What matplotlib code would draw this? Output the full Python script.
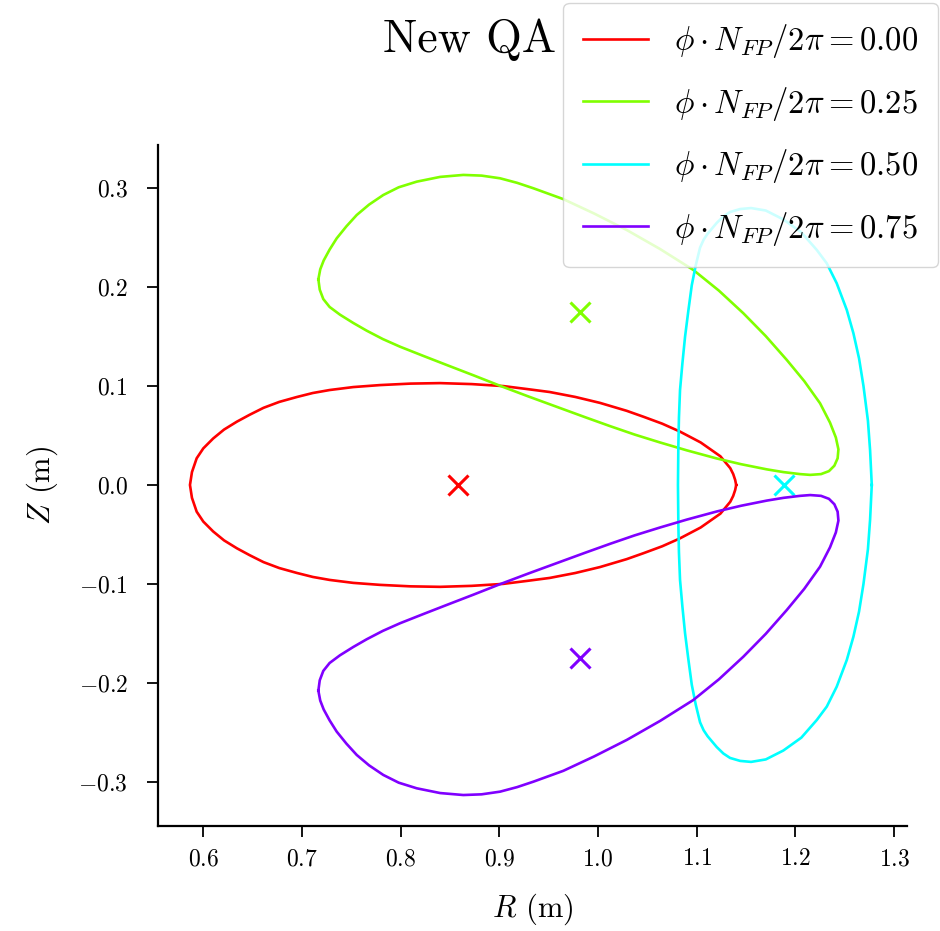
import numpy as np
import matplotlib
matplotlib.use("Agg")
import matplotlib.pyplot as plt

plt.rcParams["font.family"] = "serif"
plt.rcParams["font.serif"] = ["cmr10", "DejaVu Serif"]
plt.rcParams["mathtext.fontset"] = "cm"
plt.rcParams["axes.formatter.use_mathtext"] = True

# boundary cross sections, (R, Z) in metres
phi_labels = ["0.00", "0.25", "0.50", "0.75"]
colors = ["#ff0000", "#80ff00", "#00ffff", "#8000ff"]

pts_00 = [(1.140, 0.000), (1.139, 0.005), (1.137, 0.011), (1.134, 0.017), (1.124, 0.029),
          (1.104, 0.043), (1.083, 0.054), (1.065, 0.062), (1.046, 0.069), (1.029, 0.075),
          (1.002, 0.083), (0.977, 0.089), (0.951, 0.094), (0.928, 0.097), (0.904, 0.100),
          (0.872, 0.102), (0.840, 0.103), (0.810, 0.1025), (0.779, 0.101), (0.752, 0.099),
          (0.728, 0.096), (0.711, 0.093), (0.695, 0.089), (0.677, 0.084), (0.661, 0.078),
          (0.647, 0.071), (0.634, 0.064), (0.621, 0.056), (0.610, 0.047), (0.600, 0.037),
          (0.5933, 0.027), (0.5885, 0.013), (0.5865, 0.000),
          (0.5885, -0.013), (0.5933, -0.027), (0.600, -0.037), (0.610, -0.047), (0.621, -0.056),
          (0.634, -0.064), (0.647, -0.071), (0.661, -0.078), (0.677, -0.084), (0.695, -0.089),
          (0.711, -0.093), (0.728, -0.096), (0.752, -0.099), (0.779, -0.101), (0.810, -0.1025),
          (0.840, -0.103), (0.872, -0.102), (0.904, -0.100), (0.928, -0.097), (0.951, -0.094),
          (0.977, -0.089), (1.002, -0.083), (1.029, -0.075), (1.046, -0.069), (1.065, -0.062),
          (1.083, -0.054), (1.104, -0.043), (1.124, -0.029), (1.134, -0.017), (1.137, -0.011),
          (1.139, -0.005), (1.140, 0.000)]

pts_25 = [(0.7166, 0.2080), (0.7185, 0.2180), (0.7220, 0.2270), (0.7280, 0.2380), (0.7352, 0.2494),
          (0.7450, 0.2615), (0.7555, 0.2730), (0.7680, 0.2835), (0.7824, 0.2932), (0.7980, 0.3010),
          (0.8163, 0.3067), (0.8400, 0.3115), (0.8635, 0.3135), (0.8820, 0.3128), (0.9007, 0.3101),
          (0.9180, 0.3055), (0.9345, 0.3000), (0.9649, 0.2890), (0.9960, 0.2745), (1.0291, 0.2578),
          (1.0630, 0.2385), (1.0966, 0.2174), (1.1225, 0.1965), (1.1473, 0.1736), (1.1700, 0.1505),
          (1.1913, 0.1264), (1.2090, 0.1050), (1.2250, 0.0826), (1.2351, 0.0630), (1.2410, 0.0480),
          (1.2436, 0.0360), (1.2428, 0.0270), (1.2395, 0.0195), (1.2340, 0.0140), (1.2260, 0.0110),
          (1.2150, 0.0102), (1.2047, 0.0110), (1.1880, 0.0130), (1.1710, 0.0158), (1.1450, 0.0210),
          (1.1203, 0.0268), (1.0900, 0.0350), (1.0628, 0.0430), (1.0370, 0.0510), (1.0122, 0.0595),
          (0.9870, 0.0685), (0.9615, 0.0778), (0.9300, 0.0893), (0.9007, 0.1003), (0.8740, 0.1108),
          (0.8467, 0.1213), (0.8230, 0.1305), (0.7994, 0.1398), (0.7820, 0.1475), (0.7656, 0.1560),
          (0.7520, 0.1638), (0.7385, 0.1722), (0.7280, 0.1800), (0.7216, 0.1880), (0.7180, 0.1975),
          (0.7166, 0.2080)]

pts_50 = [(1.2774, 0.000), (1.2757, 0.035), (1.2735, 0.065), (1.2690, 0.100), (1.2645, 0.128),
          (1.2588, 0.1534), (1.2521, 0.1769), (1.2419, 0.2039), (1.2318, 0.2241), (1.2217, 0.2376),
          (1.2060, 0.2555), (1.1878, 0.2685), (1.1700, 0.2775), (1.1551, 0.2800), (1.1440, 0.2790),
          (1.1338, 0.2760), (1.1270, 0.2715), (1.1203, 0.2650), (1.1110, 0.2540), (1.1070, 0.2480),
          (1.1034, 0.2400), (1.0990, 0.2220), (1.0950, 0.2020), (1.0915, 0.1760), (1.0882, 0.1500),
          (1.0855, 0.1230), (1.0831, 0.0960), (1.0820, 0.0680), (1.0814, 0.0400), (1.0810, 0.0000),
          (1.0814, -0.0400), (1.0820, -0.0680), (1.0831, -0.0960), (1.0855, -0.1230), (1.0882, -0.1500),
          (1.0915, -0.1760), (1.0950, -0.2020), (1.0990, -0.2220), (1.1034, -0.2400), (1.1070, -0.2480),
          (1.1110, -0.2540), (1.1203, -0.2650), (1.1270, -0.2715), (1.1338, -0.2760), (1.1440, -0.2790),
          (1.1551, -0.2800), (1.1700, -0.2775), (1.1878, -0.2685), (1.2060, -0.2555), (1.2217, -0.2376),
          (1.2318, -0.2241), (1.2419, -0.2039), (1.2521, -0.1769), (1.2588, -0.1534), (1.2645, -0.128),
          (1.2690, -0.100), (1.2735, -0.065), (1.2757, -0.035), (1.2774, 0.000)]

pts_75 = [(0.7166, -0.2080), (0.7185, -0.2180), (0.7220, -0.2270), (0.7280, -0.2380), (0.7352, -0.2494),
          (0.7450, -0.2615), (0.7555, -0.2730), (0.7680, -0.2835), (0.7824, -0.2932), (0.7980, -0.3010),
          (0.8163, -0.3067), (0.8400, -0.3115), (0.8635, -0.3135), (0.8820, -0.3128), (0.9007, -0.3101),
          (0.9180, -0.3055), (0.9345, -0.3000), (0.9649, -0.2890), (0.9960, -0.2745), (1.0291, -0.2578),
          (1.0630, -0.2385), (1.0966, -0.2174), (1.1225, -0.1965), (1.1473, -0.1736), (1.1700, -0.1505),
          (1.1913, -0.1264), (1.2090, -0.1050), (1.2250, -0.0826), (1.2351, -0.0630), (1.2410, -0.0480),
          (1.2436, -0.0360), (1.2428, -0.0270), (1.2395, -0.0195), (1.2340, -0.0140), (1.2260, -0.0110),
          (1.2150, -0.0102), (1.2047, -0.0110), (1.1880, -0.0130), (1.1710, -0.0158), (1.1450, -0.0210),
          (1.1203, -0.0268), (1.0900, -0.0350), (1.0628, -0.0430), (1.0370, -0.0510), (1.0122, -0.0595),
          (0.9870, -0.0685), (0.9615, -0.0778), (0.9300, -0.0893), (0.9007, -0.1003), (0.8740, -0.1108),
          (0.8467, -0.1213), (0.8230, -0.1305), (0.7994, -0.1398), (0.7820, -0.1475), (0.7656, -0.1560),
          (0.7520, -0.1638), (0.7385, -0.1722), (0.7280, -0.1800), (0.7216, -0.1880), (0.7180, -0.1975),
          (0.7166, -0.2080)]

# magnetic axis positions
axis_R = [0.858, 0.982, 1.188, 0.982]
axis_Z = [0.000, 0.175, 0.000, -0.175]

sections = [pts_00, pts_25, pts_50, pts_75]

fig = plt.figure(figsize=(9.4, 9.31), dpi=100)
ax = fig.add_axes([0.1684, 0.1128, 0.7966, 0.7315])

for i, pts in enumerate(sections):
    R, Z = np.array(pts).T
    ax.plot(R, Z, color=colors[i], lw=1.9,
            label=r"$\phi \cdot N_{FP} / 2 \pi = %s$" % phi_labels[i])
    ax.plot(axis_R[i], axis_Z[i], "x", color=colors[i], ms=15, mew=2.2)

ax.set_xlim(0.5544, 1.3132)
ax.set_ylim(-0.3448, 0.3438)
ax.set_xticks([0.6, 0.7, 0.8, 0.9, 1.0, 1.1, 1.2, 1.3])
ax.set_yticks([-0.3, -0.2, -0.1, 0.0, 0.1, 0.2, 0.3])
ax.tick_params(labelsize=17, length=8, width=1.3)
ax.tick_params(axis="x", pad=8)
ax.tick_params(axis="y", pad=14)
ax.spines["top"].set_visible(False)
ax.spines["right"].set_visible(False)
ax.spines["left"].set_linewidth(1.6)
ax.spines["bottom"].set_linewidth(1.6)
ax.set_xlabel(r"$R$ (m)", fontsize=22, labelpad=15)
ax.set_ylabel(r"$Z$ (m)", fontsize=22, labelpad=13)

fig.suptitle("New QA", fontsize=33)
fig.legend(loc="upper right", bbox_to_anchor=(0.998, 0.997), borderaxespad=0,
           fontsize=23.5, labelspacing=0.75, borderpad=0.6)

plt.savefig("out.png", dpi=100)
